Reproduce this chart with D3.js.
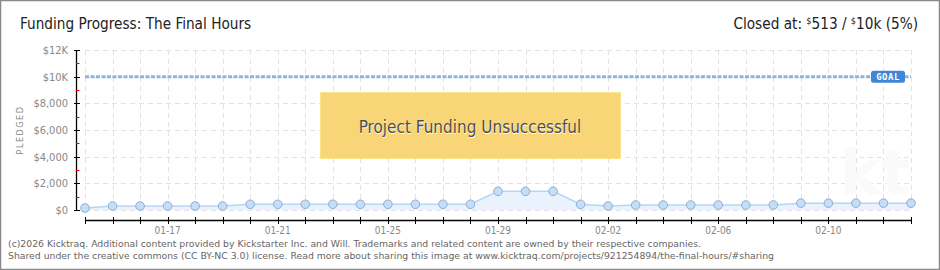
<!DOCTYPE html>
<html>
<head>
<meta charset="utf-8">
<script src="https://cdnjs.cloudflare.com/ajax/libs/d3/7.8.5/d3.min.js"></script>
<style>
  body { margin: 0; background: #fff; }
  svg { display: block; }
  .ttl { font-family: "Liberation Sans Narrow", "DejaVu Sans Condensed", sans-serif; fill: #222; }
  .ax text { font-family: "DejaVu Sans Condensed", sans-serif; fill: #888; }
  .foot { font-family: "DejaVu Sans", Verdana, sans-serif; font-size: 9.3px; fill: #666; }
</style>
</head>
<body>
<svg id="graph" width="940" height="270"></svg>
<script>
/*globals d3*/
// daily pledged totals, 01-14 .. 02-13
var startDay = "2026-01-14";
var pledged = [150, 300, 300, 300, 300, 300, 430, 430, 430, 430, 430, 430, 430, 430, 430,
               1400, 1400, 1400, 430, 300, 375, 375, 375, 375, 375, 375, 513, 513, 513, 513, 513];
var goal = 10000;
var yTicks = [0, 2000, 4000, 6000, 8000, 10000, 12000];
var yTickLabels = ["$0", "$2,000", "$4,000", "$6,000", "$8,000", "$10K", "$12K"];
var xTickEvery = 4, xFirstLabel = 3;

var parse = d3.utcParse("%Y-%m-%d");
var t0 = parse(startDay);
var data = pledged.map(function(v, i) { return { date: d3.utcDay.offset(t0, i), v: v }; });

var svg = d3.select("svg");

// frame
svg.append("rect").attr("x", 0.5).attr("y", 0.5).attr("width", 939).attr("height", 269)
  .attr("fill", "#fff").attr("stroke", "#8a8a8a").attr("stroke-width", 1.5);

var x = d3.scaleUtc().domain([data[0].date, data[data.length - 1].date]).range([85, 911]);
var y = d3.scaleLinear().domain([0, 12000]).range([210, 50]);

var days = data.map(function(d) { return d.date; });

// grid
var grid = svg.append("g").attr("stroke", "#e2e2e2").attr("stroke-dasharray", "5,4").attr("stroke-width", 1);
grid.selectAll("line.v").data(days).enter().append("line")
  .attr("x1", function(d) { return Math.round(x(d)) + 0.5; })
  .attr("x2", function(d) { return Math.round(x(d)) + 0.5; })
  .attr("y1", y(12000)).attr("y2", y(0));
grid.selectAll("line.h").data(yTicks).enter().append("line")
  .attr("x1", 85).attr("x2", 911)
  .attr("y1", function(d) { return Math.round(y(d)) + 0.5; })
  .attr("y2", function(d) { return Math.round(y(d)) + 0.5; });

// faint watermark
svg.append("text").attr("x", 875).attr("y", 194).attr("text-anchor", "middle")
  .style("font-family", "DejaVu Sans").style("font-size", "62px").style("font-weight", "bold")
  .attr("fill", "#fafafa").text("kt");

// area + line
var area = d3.area().x(function(d) { return x(d.date); }).y0(y(0)).y1(function(d) { return y(d.v); });
var line = d3.line().x(function(d) { return x(d.date); }).y(function(d) { return y(d.v); });
svg.append("path").datum(data).attr("d", area).attr("fill", "#eaf3fd");
svg.append("path").datum(data).attr("d", line).attr("fill", "none").attr("stroke", "#b6d6f6").attr("stroke-width", 1.5);

// goal line
svg.append("line").attr("x1", 85).attr("x2", 911).attr("y1", y(goal)).attr("y2", y(goal))
  .attr("stroke", "#8fb2de").attr("stroke-width", 3).attr("stroke-dasharray", "4,1.5");
var gl = svg.append("g").attr("transform", "translate(" + 871 + "," + (y(goal) - 6) + ")");
gl.append("rect").attr("width", 34).attr("height", 12).attr("rx", 2.5).attr("fill", "#3f86d8");
gl.append("text").attr("x", 17).attr("y", 9.5).attr("text-anchor", "middle")
  .style("font-family", "DejaVu Sans Mono").style("font-size", "9px").style("font-weight", "bold")
  .attr("fill", "#fff").attr("letter-spacing", "0.5").text("GOAL");

// points
svg.selectAll("circle.pt").data(data).enter().append("circle")
  .attr("cx", function(d) { return x(d.date); })
  .attr("cy", function(d) { return y(d.v); })
  .attr("r", 4.3).attr("fill", "#c4def9").attr("stroke", "#91accc").attr("stroke-width", 1);

// y axis
var yAxis = svg.append("g").attr("class", "ax");
yAxis.append("line").attr("x1", 76.5).attr("x2", 76.5).attr("y1", y(12000)).attr("y2", y(0)).attr("stroke", "#000").attr("stroke-width", 1.3);
yAxis.selectAll("line.maj").data(yTicks).enter().append("line")
  .attr("x1", 74).attr("x2", 80)
  .attr("y1", function(d) { return Math.round(y(d)) + 0.5; }).attr("y2", function(d) { return Math.round(y(d)) + 0.5; })
  .attr("stroke", "#000");
yAxis.selectAll("line.min").data(d3.range(1000, 12000, 2000)).enter().append("line")
  .attr("x1", 76).attr("x2", 79.5)
  .attr("y1", function(d) { return Math.round(y(d)) + 0.5; }).attr("y2", function(d) { return Math.round(y(d)) + 0.5; })
  .attr("stroke", "#e00");
yAxis.selectAll("text.yl").data(yTicks).enter().append("text")
  .attr("x", 68).attr("y", function(d) { return y(d) + 4; })
  .attr("text-anchor", "end").style("font-size", "11px")
  .text(function(d, i) { return yTickLabels[i]; });
yAxis.append("text").attr("transform", "translate(23,130) rotate(-90)")
  .attr("text-anchor", "middle").style("font-size", "9px").attr("letter-spacing", "1.5").text("PLEDGED");

// x axis
var xAxis = svg.append("g").attr("class", "ax");
xAxis.append("line").attr("x1", 85).attr("x2", 911).attr("y1", 220.5).attr("y2", 220.5).attr("stroke", "#000").attr("stroke-width", 1.3);
xAxis.selectAll("line.xt").data(days).enter().append("line")
  .attr("x1", function(d) { return Math.round(x(d)) + 0.5; })
  .attr("x2", function(d) { return Math.round(x(d)) + 0.5; })
  .attr("y1", 217).attr("y2", 224).attr("stroke", "#000");
var fmt = d3.utcFormat("%m-%d");
xAxis.selectAll("text.xl").data(days.filter(function(d, i) { return i % xTickEvery === xFirstLabel; }))
  .enter().append("text")
  .attr("x", function(d) { return x(d); }).attr("y", 234)
  .attr("text-anchor", "middle").style("font-size", "10px")
  .text(function(d) { return fmt(d); });

// yellow notice
svg.append("rect").attr("x", 320.5).attr("y", 92.5).attr("width", 300).attr("height", 66)
  .attr("fill", "#f8d677").attr("stroke", "#fbe389").attr("stroke-width", 1);
svg.append("text").attr("x", 470.5).attr("y", 133.5).attr("text-anchor", "middle")
  .attr("class", "ttl").style("font-size", "17px").style("fill", "#fff").text("Project Funding Unsuccessful");
svg.append("text").attr("x", 470).attr("y", 133).attr("text-anchor", "middle")
  .attr("class", "ttl").style("font-size", "17px").style("fill", "#4e4e4e").text("Project Funding Unsuccessful");

// titles
svg.append("text").attr("class", "ttl").attr("x", 20).attr("y", 29).style("font-size", "15.2px")
  .text("Funding Progress: The Final Hours");
var rt = svg.append("text").attr("class", "ttl").attr("x", 918).attr("y", 29).attr("text-anchor", "end").style("font-size", "15.2px");
rt.append("tspan").text("Closed at:  ");
rt.append("tspan").attr("dy", -5).style("font-size", "9px").text("$");
rt.append("tspan").attr("dy", 5).text("513 /  ");
rt.append("tspan").attr("dy", -5).style("font-size", "9px").text("$");
rt.append("tspan").attr("dy", 5).text("10k (5%)");

// footer
svg.append("text").attr("class", "foot").attr("x", 8).attr("y", 247)
  .text("(c)2026 Kicktraq. Additional content provided by Kickstarter Inc. and Will. Trademarks and related content are owned by their respective companies.");
svg.append("text").attr("class", "foot").attr("x", 8).attr("y", 259)
  .text("Shared under the creative commons (CC BY-NC 3.0) license. Read more about sharing this image at www.kicktraq.com/projects/921254894/the-final-hours/#sharing");
</script>
</body>
</html>
